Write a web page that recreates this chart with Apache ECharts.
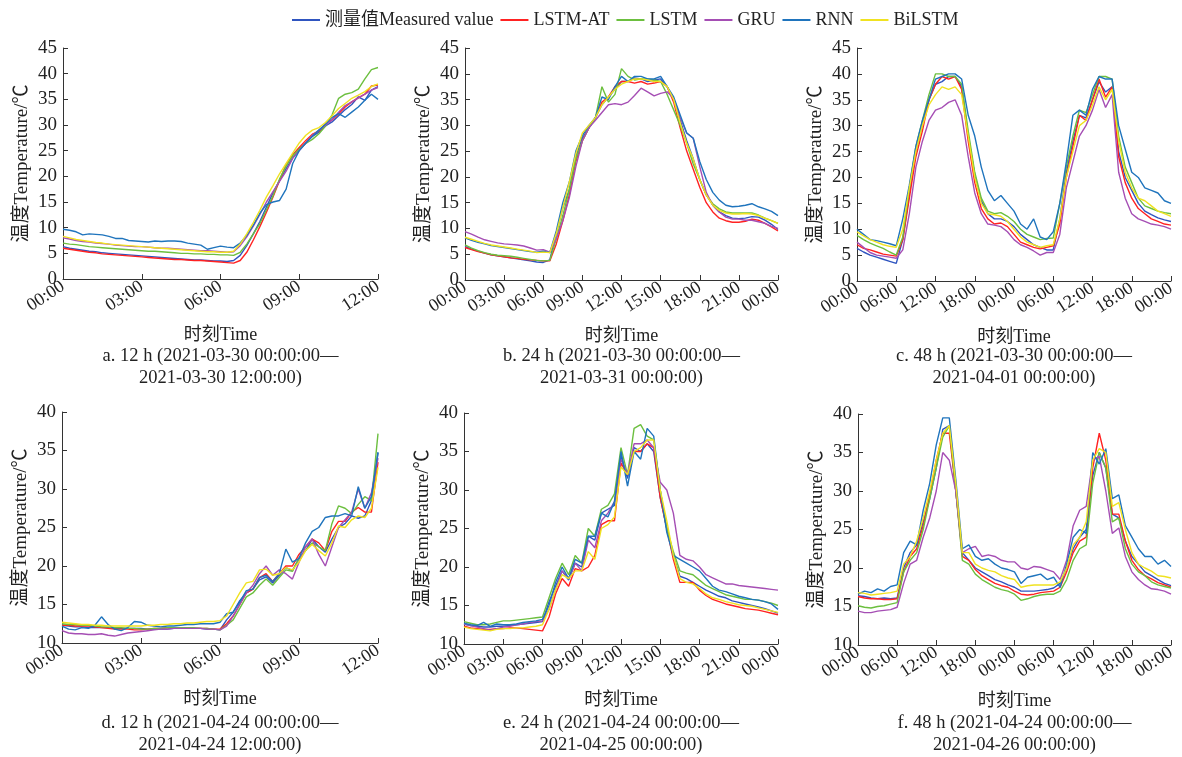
<!DOCTYPE html>
<html><head><meta charset="utf-8">
<script src="https://cdn.jsdelivr.net/npm/echarts@6/dist/echarts.min.js"></script>
<style>html,body{margin:0;padding:0;background:#fff}#c{width:1182px;height:757px}</style>
</head><body><div id="c"></div>
<script>
// ---------- data ----------
const seriesNames = ['测量值Measured value','LSTM-AT','LSTM','GRU','RNN','BiLSTM'];
const captions = [
  ['a. 12 h (2021-03-30 00:00:00—','2021-03-30 12:00:00)'],
  ['b. 24 h (2021-03-30 00:00:00—','2021-03-31 00:00:00)'],
  ['c. 48 h (2021-03-30 00:00:00—','2021-04-01 00:00:00)'],
  ['d. 12 h (2021-04-24 00:00:00—','2021-04-24 12:00:00)'],
  ['e. 24 h (2021-04-24 00:00:00—','2021-04-25 00:00:00)'],
  ['f. 48 h (2021-04-24 00:00:00—','2021-04-26 00:00:00)']
];
// panel a (12 h, every 15 min)
const a_measured=[6.3,6.0,5.8,5.6,5.4,5.3,5.1,5.0,4.9,4.8,4.7,4.6,4.5,4.4,4.3,4.2,4.1,4.0,3.9,3.8,3.7,3.7,3.6,3.5,3.5,3.4,3.6,4.6,6.5,8.8,11.2,14.0,16.8,19.2,21.5,23.6,25.2,26.5,27.8,28.6,29.8,30.6,31.8,33.0,34.0,35.5,34.8,36.8,37.5];
const a_lstmat=[6.0,5.8,5.6,5.4,5.2,5.1,4.9,4.8,4.7,4.6,4.5,4.4,4.3,4.2,4.1,4.0,3.9,3.8,3.8,3.7,3.6,3.6,3.5,3.4,3.3,3.2,3.1,3.6,5.2,7.6,10.2,13.0,16.0,19.2,22.3,24.2,25.6,27.0,28.2,28.8,30.2,31.0,32.2,33.5,34.5,35.3,36.0,37.6,37.8];
const a_lstm=[7.0,6.8,6.7,6.5,6.3,6.2,6.1,6.0,5.9,5.8,5.7,5.6,5.5,5.4,5.4,5.3,5.2,5.1,5.0,5.0,4.9,4.9,4.8,4.8,4.7,4.7,4.6,5.2,6.8,8.8,10.8,13.5,16.2,19.5,22.0,24.0,25.3,26.4,27.2,28.3,29.8,32.0,35.2,36.0,36.3,37.0,39.0,40.8,41.2];
const a_gru=[8.0,7.8,7.5,7.3,7.2,7.0,6.9,6.8,6.6,6.5,6.4,6.3,6.3,6.2,6.1,6.0,6.0,5.9,5.8,5.7,5.6,5.5,5.5,5.4,5.3,5.2,5.3,6.5,8.2,10.3,12.6,15.0,17.0,19.0,21.0,23.5,25.0,26.5,28.0,29.0,30.0,31.0,32.5,33.8,34.5,35.3,36.0,36.8,37.3];
const a_rnn=[9.7,9.5,9.2,8.6,8.8,8.7,8.6,8.3,7.9,7.9,7.5,7.4,7.3,7.2,7.4,7.3,7.4,7.4,7.3,7.0,6.8,6.6,5.8,6.1,6.4,6.2,6.1,7.0,8.5,10.5,12.8,14.5,15.0,15.3,17.5,22.5,25.0,26.5,27.8,29.0,30.2,31.5,32.2,31.5,32.5,33.5,34.8,36.0,35.0];
const a_bilstm=[8.3,8.0,7.7,7.5,7.3,7.1,7.0,6.8,6.7,6.6,6.5,6.4,6.3,6.2,6.1,6.0,5.9,5.8,5.7,5.6,5.5,5.4,5.3,5.3,5.2,5.2,5.4,6.8,8.8,11.0,13.4,16.0,18.2,20.5,22.5,24.5,26.5,28.0,29.0,29.5,30.5,31.8,33.2,34.2,35.2,35.8,36.5,37.5,38.0];
// panel b (24 h, every 30 min)
const b_measured=[6.5,6.0,5.6,5.2,4.9,4.7,4.5,4.3,4.1,3.9,3.7,3.5,3.4,3.9,9.0,14.0,17.5,24.0,27.5,29.5,31.5,34.0,35.5,37.0,38.5,38.5,39.2,39.0,38.5,38.8,39.0,37.5,35.0,31.0,27.0,23.5,19.5,16.5,14.5,13.2,12.5,12.0,11.9,12.0,12.3,12.2,11.6,10.8,9.8];
const b_lstmat=[6.3,5.9,5.5,5.2,4.9,4.7,4.5,4.3,4.2,4.0,3.9,3.8,3.7,3.7,7.0,11.5,16.5,23.0,27.0,29.5,31.5,34.5,35.5,37.5,38.5,38.5,38.2,38.5,38.0,38.2,38.5,37.5,34.5,29.5,25.0,21.5,18.0,15.0,13.2,12.0,11.5,11.2,11.2,11.4,11.8,11.6,11.0,10.3,9.5];
const b_lstm=[6.8,6.2,5.7,5.3,5.0,4.8,4.7,4.6,4.4,4.2,4.0,3.8,3.7,3.8,8.0,12.5,17.5,23.5,27.0,29.5,31.5,37.5,34.5,36.0,41.0,39.5,38.8,39.0,39.0,38.8,38.5,36.0,33.0,30.0,26.5,22.5,19.5,16.5,14.8,13.8,13.2,13.0,13.0,13.0,13.0,12.6,12.0,11.5,11.0];
const b_gru=[9.4,8.9,8.3,7.8,7.5,7.2,7.0,6.9,6.8,6.6,6.2,5.8,5.9,5.4,8.0,11.5,16.0,22.0,27.0,29.5,31.0,32.5,34.0,34.2,34.0,34.5,35.8,37.2,36.5,35.7,36.2,36.5,35.2,31.5,28.5,27.5,22.0,17.0,14.5,13.2,12.2,11.8,11.8,11.6,11.6,11.3,11.0,10.4,10.0];
const b_rnn=[8.2,7.7,7.3,7.0,6.7,6.5,6.3,6.1,5.9,5.7,5.5,5.4,5.6,5.3,9.5,15.0,19.0,25.0,28.0,30.0,31.5,35.5,35.0,37.5,39.5,38.5,39.5,39.5,39.0,39.0,39.5,37.5,35.5,32.0,28.5,27.5,23.0,19.5,17.0,15.5,14.5,14.2,14.3,14.5,14.8,14.2,13.8,13.3,12.5];
const b_bilstm=[8.3,7.9,7.5,7.1,6.8,6.6,6.4,6.2,6.0,5.8,5.6,5.3,5.4,5.3,9.0,14.0,19.0,24.5,28.5,30.0,31.5,34.0,35.5,37.0,38.0,38.5,39.0,39.0,38.8,38.5,38.5,37.5,35.0,30.5,26.5,23.5,19.5,16.5,14.5,13.5,13.0,12.8,12.8,12.9,12.8,12.5,12.0,11.5,11.0];
// panel c (48 h, hourly)
const c_measured=[6.3,5.6,5.0,4.6,4.2,3.8,3.4,8.0,17.0,25.0,30.0,35.0,38.0,38.5,39.5,39.5,37.5,28.0,20.5,15.5,13.0,12.0,12.0,11.5,10.5,9.0,8.0,7.0,6.5,6.0,6.0,12.0,21.0,27.0,32.0,31.5,35.0,38.5,36.5,37.5,25.0,20.0,17.5,15.0,13.5,12.8,12.2,11.8,11.5];
const c_lstmat=[7.0,6.3,6.0,5.6,5.2,5.0,4.8,8.0,16.0,24.0,29.0,35.0,38.0,39.5,39.0,39.5,37.0,27.0,19.0,14.0,12.0,11.0,11.2,10.5,9.0,7.5,7.0,6.5,6.2,6.5,6.8,11.0,20.0,26.0,32.0,31.0,35.0,39.0,35.5,37.5,24.0,19.0,16.0,14.0,13.0,12.0,11.5,11.0,10.8];
const c_lstm=[8.8,8.0,7.3,6.8,6.3,5.6,5.0,8.5,18.0,26.0,31.0,36.0,40.0,40.0,39.5,39.5,38.0,29.0,21.0,16.0,13.5,13.0,13.2,12.5,11.5,10.0,9.0,8.5,8.0,8.2,8.3,15.0,22.0,28.0,33.0,32.5,36.0,39.5,39.5,39.0,28.0,22.0,19.0,16.0,14.5,14.0,13.5,13.2,13.0];
const c_gru=[7.5,6.5,5.5,5.0,4.8,4.6,4.4,6.0,13.0,22.0,27.0,31.0,33.0,33.5,34.5,35.0,32.0,24.0,17.0,13.0,11.0,10.8,10.5,9.5,8.0,7.0,6.5,5.8,5.0,5.5,5.5,9.0,18.0,23.0,28.0,30.0,33.0,37.0,33.5,36.0,21.0,16.0,13.0,12.0,11.5,11.0,10.8,10.5,10.0];
const c_rnn=[10.0,9.0,8.0,7.8,7.5,7.2,6.8,12.0,18.5,26.0,31.0,35.0,39.0,39.5,40.0,40.0,39.0,32.0,28.0,22.0,17.5,15.5,16.5,15.0,13.5,11.0,10.0,12.0,8.5,8.0,9.5,15.0,23.0,32.0,33.0,32.0,37.0,39.5,39.0,39.0,30.0,25.5,21.0,20.0,18.0,17.5,17.0,15.5,15.0];
const c_bilstm=[9.5,8.7,8.0,7.5,7.0,6.7,6.5,10.0,18.0,25.0,30.0,34.0,36.0,37.5,37.0,37.5,36.0,28.0,20.0,15.0,13.0,12.8,12.5,11.5,10.0,8.5,7.5,7.0,6.5,6.8,7.0,12.0,20.0,25.0,30.0,31.0,34.0,37.5,35.0,37.0,27.0,21.0,18.0,16.0,15.5,14.5,13.5,13.0,12.5];
// panel d (12 h, every 15 min)
const d_measured=[12.3,12.2,12.1,12.1,12.0,12.0,12.0,12.0,11.9,11.9,11.9,11.9,11.9,11.8,11.8,11.8,11.8,11.9,11.9,11.9,11.9,11.9,11.8,11.8,11.7,13.0,14.0,15.5,16.5,17.0,18.2,18.6,17.8,18.8,19.8,19.4,21.0,22.0,23.5,22.5,21.8,23.5,25.0,25.5,26.5,26.2,26.5,28.5,34.7];
const d_lstmat=[12.3,12.3,12.2,12.2,12.2,12.1,12.0,11.9,11.8,11.8,11.8,11.7,11.7,11.8,11.9,11.9,12.0,12.0,12.0,11.9,11.9,11.9,11.9,11.8,11.8,12.5,13.5,15.0,16.5,17.0,18.5,19.0,18.0,19.0,20.0,20.0,21.5,22.5,23.5,23.0,22.0,24.5,25.8,25.8,27.0,27.6,27.0,27.0,33.5];
const d_lstm=[12.5,12.4,12.4,12.3,12.3,12.2,12.1,12.1,12.0,12.0,11.9,11.9,11.8,11.8,11.9,11.9,12.0,12.0,12.0,12.0,12.0,11.9,11.9,11.8,11.7,12.3,13.0,14.5,16.0,16.5,17.5,18.3,17.5,18.5,19.5,19.3,21.0,22.0,23.0,22.5,22.0,25.5,27.8,27.5,26.8,28.0,29.0,28.5,37.2];
const d_gru=[11.6,11.3,11.2,11.2,11.1,11.1,11.2,11.0,10.9,11.1,11.3,11.4,11.5,11.6,11.7,11.8,11.8,11.9,11.9,11.9,11.9,11.9,11.8,11.8,11.7,12.2,13.5,15.0,16.5,17.5,19.0,20.0,18.8,19.5,19.0,18.3,20.5,22.5,23.5,21.5,20.0,22.5,25.0,26.0,27.0,30.0,27.5,29.5,34.0];
const d_rnn=[12.2,11.8,11.7,12.0,11.9,12.3,13.4,12.4,11.8,11.6,12.0,12.8,12.7,12.3,12.2,12.1,12.2,12.2,12.3,12.4,12.4,12.5,12.5,12.5,12.7,13.8,14.0,15.3,16.8,17.0,18.5,18.8,18.0,19.0,22.2,20.5,21.0,23.0,24.5,25.0,26.3,26.5,26.5,26.8,26.5,30.3,27.5,29.0,34.8];
const d_bilstm=[12.7,12.6,12.5,12.4,12.4,12.3,12.3,12.2,12.2,12.2,12.2,12.2,12.2,12.3,12.3,12.4,12.4,12.5,12.5,12.6,12.6,12.7,12.8,12.8,12.9,13.5,15.0,16.5,17.8,18.0,19.5,19.6,18.8,19.0,19.8,19.5,20.5,22.0,22.8,22.0,21.3,23.0,25.2,25.0,26.0,26.5,26.3,27.5,32.8];
// panel e (24 h, every 30 min)
const e_measured=[12.6,12.4,12.3,12.2,12.2,12.3,12.3,12.4,12.5,12.6,12.7,12.8,12.9,15.5,17.5,19.5,18.3,20.5,20.0,24.0,23.5,27.0,27.5,28.0,34.5,31.5,35.5,35.0,36.0,35.0,29.0,25.0,21.5,18.8,18.5,18.0,17.5,17.0,16.6,16.2,16.0,15.6,15.4,15.2,15.0,14.8,14.6,14.3,14.0];
const e_lstmat=[12.3,12.1,12.0,11.9,11.9,12.0,12.0,12.1,12.1,12.0,11.9,11.8,11.7,13.5,16.5,18.5,17.5,19.8,19.5,20.0,21.5,25.5,26.0,26.0,33.5,32.0,35.0,35.0,36.0,35.5,29.0,25.0,21.0,18.0,18.0,18.0,17.0,16.3,15.8,15.5,15.2,15.0,14.8,14.6,14.5,14.4,14.2,14.0,13.8];
const e_lstm=[12.9,12.7,12.5,12.5,12.6,12.8,13.0,13.0,13.1,13.2,13.3,13.4,13.5,16.0,18.5,20.5,19.0,21.5,20.5,25.0,24.0,27.5,28.0,29.5,35.5,32.0,38.0,38.5,37.0,36.5,30.0,25.0,22.0,19.5,19.2,19.0,18.3,17.6,17.2,16.8,16.4,16.2,16.0,15.8,15.8,15.7,15.5,15.3,15.0];
const e_gru=[12.6,12.4,12.2,12.0,11.8,12.0,12.2,12.3,12.5,12.6,12.8,12.9,13.0,14.5,17.0,19.5,18.5,20.5,19.5,23.5,22.5,26.0,27.0,28.5,34.0,32.0,36.0,36.0,36.5,35.5,31.0,30.0,27.0,21.5,21.0,20.8,20.0,19.0,18.6,18.2,17.8,17.8,17.6,17.5,17.4,17.3,17.2,17.1,17.0];
const e_rnn=[12.7,12.5,12.4,12.8,12.3,12.6,12.5,12.5,12.6,12.8,12.9,13.0,13.2,15.0,18.0,20.0,18.5,21.0,20.5,24.0,24.0,27.0,26.5,28.5,35.0,30.5,35.0,34.0,38.0,37.0,30.0,24.5,21.5,21.0,20.5,20.0,19.5,18.5,17.5,17.0,16.8,16.5,16.2,16.0,15.8,15.7,15.5,15.2,14.5];
const e_bilstm=[12.2,12.0,11.9,11.8,11.7,11.9,12.0,12.0,12.1,12.1,12.2,12.3,12.5,14.5,17.0,19.0,18.5,19.5,19.5,22.0,21.0,25.0,25.5,26.5,33.0,32.0,35.0,35.5,36.5,36.5,30.0,26.0,21.5,18.5,18.0,17.8,17.2,16.5,16.0,15.8,15.5,15.3,15.1,15.0,14.9,14.7,14.5,14.3,14.1];
// panel f (48 h, hourly)
const f_measured=[16.4,16.3,16.1,16.0,16.1,16.0,16.1,20.0,22.0,23.0,26.0,29.0,33.0,38.0,38.5,30.0,22.0,21.0,20.0,19.5,19.0,18.5,18.2,17.8,17.5,17.0,17.0,17.0,17.1,17.2,17.4,18.0,20.0,22.5,24.0,25.0,32.0,35.0,33.0,27.0,26.5,23.5,21.5,20.5,19.5,19.0,18.5,18.0,17.7];
const f_lstmat=[16.3,16.1,16.0,16.0,15.9,15.9,16.0,19.5,21.5,22.5,25.5,29.5,34.0,37.5,37.5,30.0,21.5,21.0,19.8,19.0,18.5,18.0,17.7,17.5,17.0,16.6,16.5,16.6,16.8,16.9,17.0,17.5,19.5,22.0,23.5,24.0,33.0,37.5,34.0,27.0,27.0,23.5,21.0,19.8,19.0,18.6,18.1,17.8,17.5];
const f_lstm=[15.1,14.9,14.8,15.0,15.1,15.3,15.5,19.5,21.0,22.0,25.0,29.0,33.0,37.0,38.5,30.0,21.0,20.5,19.2,18.5,18.0,17.5,17.2,17.0,16.6,15.8,16.0,16.3,16.5,16.6,16.6,17.0,18.5,21.0,22.5,23.0,31.0,35.0,33.0,26.0,26.5,22.5,20.5,19.5,19.0,18.2,17.8,17.6,17.4];
const f_gru=[14.4,14.2,14.2,14.4,14.5,14.6,14.9,18.0,20.5,21.0,24.0,26.5,30.0,35.0,34.0,30.0,22.0,22.5,22.8,21.5,21.7,21.5,21.0,20.8,20.8,20.0,19.8,20.2,20.1,19.8,19.5,18.5,21.0,25.5,27.5,28.0,34.0,34.5,30.0,24.5,25.2,21.5,19.5,18.5,17.8,17.3,17.2,17.0,16.6];
const f_rnn=[16.6,17.0,16.8,17.3,17.0,17.6,17.8,22.0,23.5,23.0,27.5,31.0,36.0,39.5,39.5,31.5,22.5,23.0,21.5,21.0,21.2,20.5,20.0,19.8,19.5,18.0,18.8,19.0,19.2,18.5,18.8,17.5,20.5,24.0,25.0,24.5,35.0,33.5,35.5,29.0,29.5,25.5,24.0,22.5,21.5,21.5,20.5,21.0,20.2];
const f_bilstm=[16.8,16.7,16.5,16.6,16.7,16.8,17.0,20.5,21.5,23.5,26.5,30.0,34.0,37.5,38.5,31.0,22.0,22.0,20.5,20.0,19.7,19.5,19.0,18.7,18.5,17.5,17.7,17.8,17.8,17.8,17.8,18.2,20.0,23.0,24.0,26.0,34.0,35.5,35.0,28.0,28.5,25.0,22.0,20.5,20.0,19.6,19.0,18.9,18.7];

// ---------- chart ----------
const FONT = '"Liberation Serif","Times New Roman","Noto Sans CJK SC",serif';
const TXT = '#222';
const colors = ['#2f55c0','#ff2222','#6cbf3f','#a54eb4','#1f74bd','#f0e221'];
const panels = [
  {span:12, step:0.25, interval:3, ymin:0, ymax:45, sets:[a_measured,a_lstmat,a_lstm,a_gru,a_rnn,a_bilstm], grid:{left:63,top:48,width:315,height:231}},
  {span:24, step:0.5, interval:3, ymin:0, ymax:45, sets:[b_measured,b_lstmat,b_lstm,b_gru,b_rnn,b_bilstm], grid:{left:465,top:48,width:313,height:232}},
  {span:48, step:1, interval:6, ymin:0, ymax:45, sets:[c_measured,c_lstmat,c_lstm,c_gru,c_rnn,c_bilstm], grid:{left:857,top:48,width:314,height:233}},
  {span:12, step:0.25, interval:3, ymin:10, ymax:40, sets:[d_measured,d_lstmat,d_lstm,d_gru,d_rnn,d_bilstm], grid:{left:62,top:412,width:316,height:231}},
  {span:24, step:0.5, interval:3, ymin:10, ymax:40, sets:[e_measured,e_lstmat,e_lstm,e_gru,e_rnn,e_bilstm], grid:{left:464,top:413,width:314,height:231}},
  {span:48, step:1, interval:6, ymin:10, ymax:40, sets:[f_measured,f_lstmat,f_lstm,f_gru,f_rnn,f_bilstm], grid:{left:858,top:414,width:313,height:231}}
];
const pad = n => (n < 10 ? '0' : '') + n;
const grids = [], xAxes = [], yAxes = [], series = [], graphics = [];
panels.forEach((p, pi) => {
  grids.push(Object.assign({containLabel:false}, p.grid));
  xAxes.push({
    type:'value', gridIndex:pi, min:0, max:p.span, interval:p.interval,
    name:'时刻Time', nameLocation:'middle', nameGap:47,
    nameTextStyle:{fontFamily:FONT, fontSize:18, color:TXT},
    axisLine:{lineStyle:{color:'#333', width:1}},
    axisTick:{inside:true, length:5, lineStyle:{color:'#333'}},
    axisLabel:{rotate:33, margin:6, fontFamily:FONT, fontSize:18, color:TXT,
      formatter: v => pad(Math.round(v) % 24) + ':00'},
    splitLine:{show:false}
  });
  yAxes.push({
    type:'value', gridIndex:pi, min:p.ymin, max:p.ymax, interval:5,
    name:'温度Temperature/℃', nameLocation:'middle', nameGap:31,
    nameTextStyle:{fontFamily:FONT, fontSize:19, color:TXT},
    axisLine:{show:true, lineStyle:{color:'#333', width:1}},
    axisTick:{show:true, inside:true, length:5, lineStyle:{color:'#333'}},
    axisLabel:{margin:6, fontFamily:FONT, fontSize:19, color:TXT},
    splitLine:{show:false}
  });
  p.sets.forEach((arr, k) => {
    series.push({
      type:'line', name:seriesNames[k], xAxisIndex:pi, yAxisIndex:pi,
      data: arr.map((v, i) => [i * p.step, v]),
      symbol:'none', showSymbol:false, animation:false,
      lineStyle:{width:1.4, color:colors[k]}, itemStyle:{color:colors[k]}, z:2+k
    });
  });
  const cx = p.grid.left + p.grid.width / 2;
  const y1 = pi < 3 ? 356 : 723;
  captions[pi].forEach((t, j) => {
    graphics.push({type:'text', x:cx, y:y1 + j * 22,
      style:{text:t, align:'center', verticalAlign:'middle', font:'18.5px ' + FONT, fill:TXT}});
  });
});
const chart = echarts.init(document.getElementById('c'), null, {renderer:'canvas'});
chart.setOption({
  backgroundColor:'#fff', animation:false,
  color: colors,
  legend:{top:6, left:287, icon:'rect', itemWidth:28, itemHeight:2, itemGap:7,
    data: seriesNames.map((n, k) => ({name:n, itemStyle:{color:colors[k]}})),
    textStyle:{fontFamily:FONT, fontSize:18, color:TXT}},
  grid:grids, xAxis:xAxes, yAxis:yAxes, series:series, graphic:graphics
});
</script></body></html>
